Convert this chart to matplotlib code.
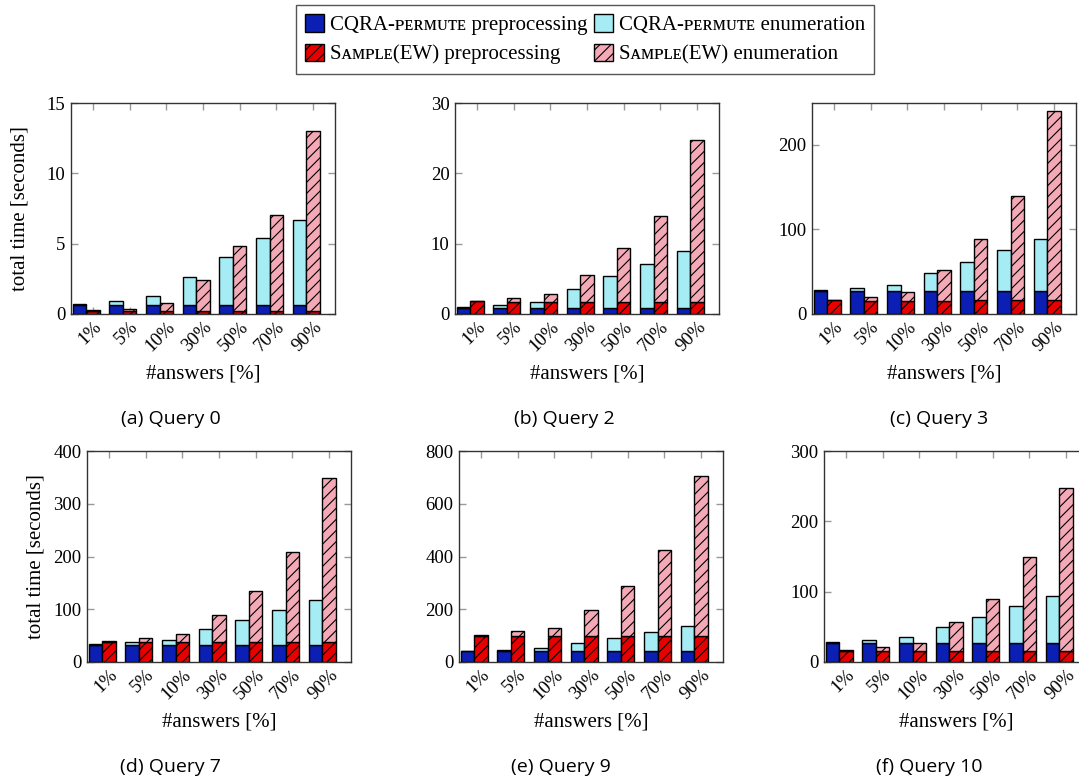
import matplotlib
matplotlib.use("Agg")
import matplotlib.pyplot as plt
import numpy as np
from matplotlib.patches import Patch

plt.rcParams['font.family'] = ['Liberation Serif', 'DejaVu Serif']
plt.rcParams['hatch.linewidth'] = 0.8

categories = ["1%", "5%", "10%", "30%", "50%", "70%", "90%"]

titles = ["(a) Query 0", "(b) Query 2", "(c) Query 3",
          "(d) Query 7", "(e) Query 9", "(f) Query 10"]

# CQRA-permute: preprocessing and total (prep + enumeration)
cqra_prep_q0 = [0.65, 0.65, 0.65, 0.65, 0.65, 0.65, 0.65]
cqra_total_q0 = [0.70, 0.94, 1.25, 2.65, 4.02, 5.41, 6.71]
samp_prep_q0 = [0.20, 0.20, 0.20, 0.20, 0.20, 0.20, 0.20]
samp_total_q0 = [0.26, 0.38, 0.76, 2.41, 4.84, 7.02, 13.04]

cqra_prep_q2 = [0.9, 0.9, 0.9, 0.9, 0.9, 0.9, 0.9]
cqra_total_q2 = [1.0, 1.28, 1.71, 3.6, 5.4, 7.16, 8.96]
samp_prep_q2 = [1.8, 1.75, 1.75, 1.75, 1.75, 1.75, 1.75]
samp_total_q2 = [1.85, 2.23, 2.84, 5.55, 9.34, 13.98, 24.7]

cqra_prep_q3 = [27.5, 27.5, 27.5, 27.5, 27.5, 27.5, 27.5]
cqra_total_q3 = [28.0, 30.7, 34.3, 48.8, 61.4, 75.6, 88.6]
samp_prep_q3 = [16, 15, 15, 15, 17, 17, 17]
samp_total_q3 = [16.2, 20.5, 26.0, 52.4, 88.2, 139.8, 239.0]

cqra_prep_q7 = [32, 32, 32, 32, 32, 32, 32]
cqra_total_q7 = [33.4, 37.8, 41.6, 61.7, 79.4, 98.9, 117.2]
samp_prep_q7 = [38, 38, 38, 38, 38, 38, 38]
samp_total_q7 = [40.0, 44.7, 52.3, 88.2, 135.4, 207.9, 349.6]

cqra_prep_q9 = [40, 40, 40, 40, 40, 40, 40]
cqra_total_q9 = [42, 45.5, 52, 72, 92, 114, 135]
samp_prep_q9 = [100, 100, 100, 100, 100, 100, 100]
samp_total_q9 = [104, 116, 130, 196, 288, 423, 704]

cqra_prep_q10 = [27.5, 27.5, 27.5, 27.5, 27.5, 27.5, 27.5]
cqra_total_q10 = [28.0, 30.8, 35.0, 50.2, 64.0, 79.0, 93.8]
samp_prep_q10 = [15.6, 15.6, 15.6, 15.6, 15.6, 15.6, 15.6]
samp_total_q10 = [17.0, 20.9, 26.5, 57.3, 89.0, 149.0, 248.0]

ylims = [15, 30, 249, 400, 800, 300]
yticks = [[0, 5, 10, 15], [0, 10, 20, 30], [0, 100, 200],
          [0, 100, 200, 300, 400], [0, 200, 400, 600, 800], [0, 100, 200, 300]]

data = [
    (cqra_prep_q0, cqra_total_q0, samp_prep_q0, samp_total_q0),
    (cqra_prep_q2, cqra_total_q2, samp_prep_q2, samp_total_q2),
    (cqra_prep_q3, cqra_total_q3, samp_prep_q3, samp_total_q3),
    (cqra_prep_q7, cqra_total_q7, samp_prep_q7, samp_total_q7),
    (cqra_prep_q9, cqra_total_q9, samp_prep_q9, samp_total_q9),
    (cqra_prep_q10, cqra_total_q10, samp_prep_q10, samp_total_q10),
]

c_cqra_prep = "#0b1fb5"
c_cqra_enum = "#a6ecf4"
c_samp_prep = "#e80000"
c_samp_enum = "#f4aab6"

W, H = 1079, 784
fig = plt.figure(figsize=(W / 100, H / 100), dpi=100)

# axes pixel boxes: left, top
boxes = [(71, 103), (455, 103), (812, 103), (87, 451), (459, 451), (824, 451)]
aw, ah = 264, 211
cap_x = [171, 564, 939, 170, 561, 929]
cap_y = [419, 419, 419, 767, 767, 767]

fs_tick = 13.5
fs_lab = 15
fs_cap = 14
bw = 0.37
x = np.arange(1, len(categories) + 1)

for i, ((l, t), (cp, ct, sp, st)) in enumerate(zip(boxes, data)):
    ax = fig.add_axes([l / W, 1 - (t + ah) / H, aw / W, ah / H])
    cp = np.array(cp); ct = np.array(ct); sp = np.array(sp); st = np.array(st)
    ax.bar(x - bw, cp, bw, color=c_cqra_prep, edgecolor='black', linewidth=1.0, zorder=3)
    ax.bar(x - bw, ct - cp, bw, bottom=cp, color=c_cqra_enum, edgecolor='black', linewidth=1.0, zorder=3)
    ax.bar(x, sp, bw, color=c_samp_prep, edgecolor='black', linewidth=1.0, hatch='///', zorder=3)
    ax.bar(x, st - sp, bw, bottom=sp, color=c_samp_enum, edgecolor='black', linewidth=1.0, hatch='///', zorder=3)
    ax.set_xlim(0.4, 7.6)
    ax.set_ylim(0, ylims[i])
    ax.set_yticks(yticks[i])
    ax.set_xticks(x)
    ax.set_xticklabels(categories, rotation=45, ha='right', va='top', rotation_mode='anchor')
    ax.tick_params(direction='in', top=True, right=True, length=5, width=1,
                   color='#999999', labelsize=fs_tick, pad=4)
    ax.tick_params(axis='x', pad=3)
    for s in ax.spines.values():
        s.set_color('#333333')
        s.set_linewidth(1.0)
    ax.set_xlabel("#answers [%]", fontsize=fs_lab)
    ax.xaxis.set_label_coords(0.5, -0.24)
    if i in (0, 3):
        ax.text(-0.193, 0.5, "total time [seconds]", transform=ax.transAxes,
                rotation=90, ha='center', va='center', fontsize=fs_lab)
    fig.text(cap_x[i] / W, 1 - cap_y[i] / H, titles[i], ha='center', va='center',
             fontsize=fs_cap, family=['Open Sans', 'DejaVu Sans'])

handles = [
    Patch(facecolor=c_cqra_prep, edgecolor='black', linewidth=1.0),
    Patch(facecolor=c_samp_prep, edgecolor='black', linewidth=1.0, hatch='///'),
    Patch(facecolor=c_cqra_enum, edgecolor='black', linewidth=1.0),
    Patch(facecolor=c_samp_enum, edgecolor='black', linewidth=1.0, hatch='///'),
]
labels = [
    "CQRA-ᴘᴇʀᴍᴜᴛᴇ preprocessing",
    "Sᴀᴍᴘʟᴇ(EW) preprocessing",
    "CQRA-ᴘᴇʀᴍᴜᴛᴇ enumeration",
    "Sᴀᴍᴘʟᴇ(EW) enumeration",
]
leg = fig.legend(handles, labels, ncol=2, loc='upper center',
                 bbox_to_anchor=(585 / W, 1 - 5 / H), fontsize=15,
                 handlelength=0.9, handleheight=0.9, handletextpad=0.3,
                 columnspacing=0.3, labelspacing=0.4, borderpad=0.45,
                 borderaxespad=0.0,
                 fancybox=False, framealpha=1, edgecolor='#555555')
leg.get_frame().set_linewidth(1.0)

fig.savefig("out.png", dpi=100)
